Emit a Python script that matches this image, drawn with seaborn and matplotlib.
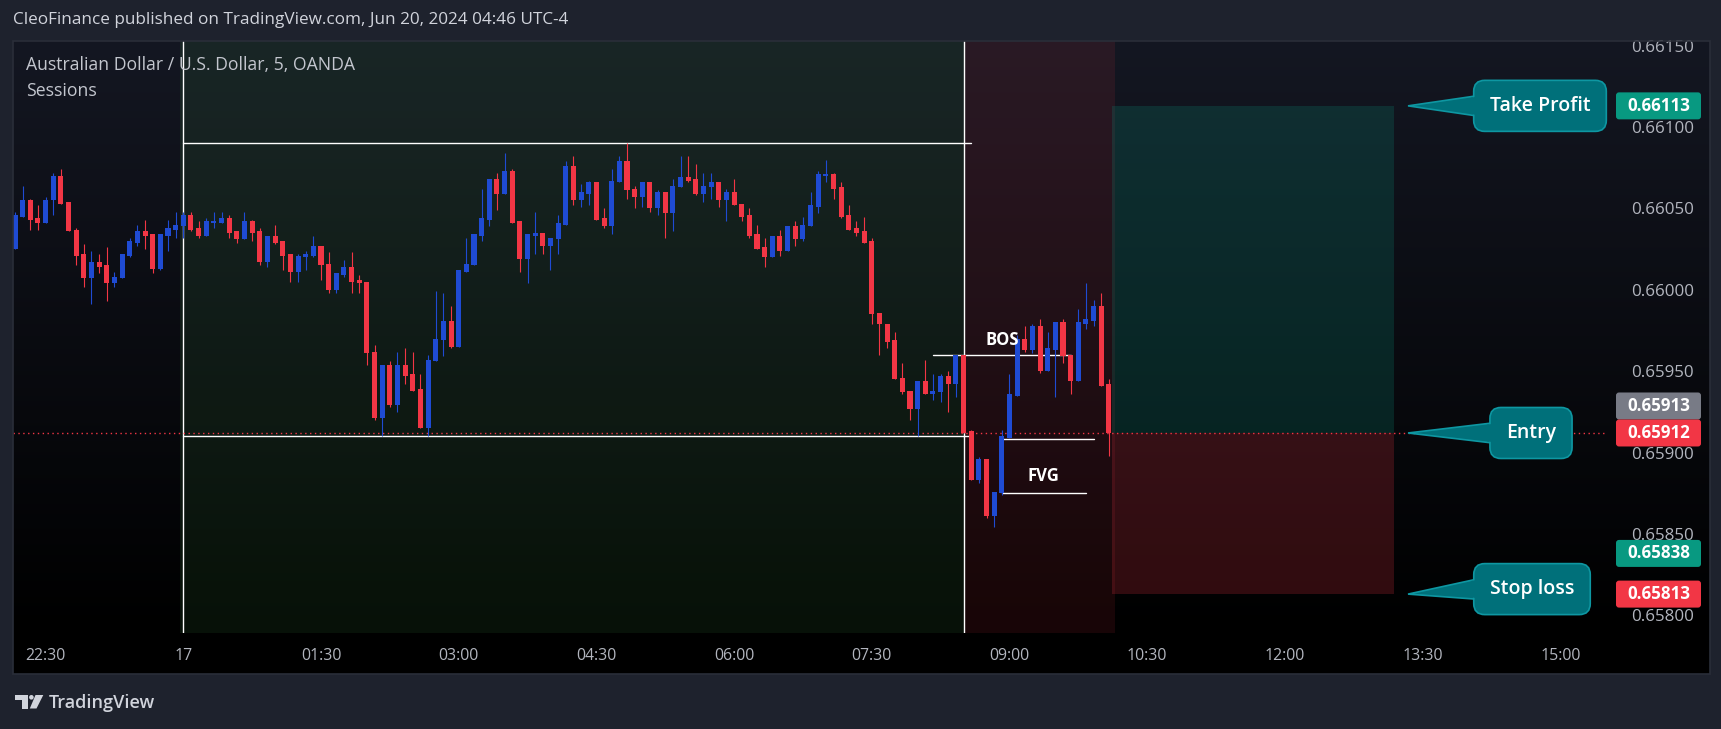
import numpy as np
import pandas as pd
import matplotlib
matplotlib.use("Agg")
import matplotlib.pyplot as plt
import seaborn as sns
from matplotlib.patches import Rectangle, FancyBboxPatch, Polygon, Circle
from matplotlib.transforms import IdentityTransform

# ---------------- data ----------------
start_time = "2024-06-16 22:10"   # first 5-minute candle
open_ = [0.66025, 0.66045, 0.66055, 0.66044, 0.66041, 0.66055, 0.66070, 0.66054, 0.66037, 0.66022,
         0.66007, 0.66017, 0.66015, 0.66004, 0.66007, 0.66021, 0.66029, 0.66036, 0.66034, 0.66013,
         0.66033, 0.66037, 0.66039, 0.66046, 0.66038, 0.66033, 0.66041, 0.66041, 0.66044, 0.66036,
         0.66031, 0.66042, 0.66036, 0.66017, 0.66033, 0.66030, 0.66022, 0.66011, 0.66020, 0.66021,
         0.66027, 0.66016, 0.66000, 0.66009, 0.66014, 0.66006, 0.66005, 0.65962, 0.65921, 0.65954,
         0.65929, 0.65954, 0.65948, 0.65939, 0.65915, 0.65956, 0.65969, 0.65981, 0.65965, 0.66011,
         0.66015, 0.66033, 0.66043, 0.66068, 0.66059, 0.66073, 0.66042, 0.66019, 0.66033, 0.66035,
         0.66027, 0.66031, 0.66040, 0.66076, 0.66055, 0.66059, 0.66066, 0.66044, 0.66039, 0.66066,
         0.66079, 0.66062, 0.66057, 0.66066, 0.66050, 0.66060, 0.66047, 0.66063, 0.66069, 0.66068,
         0.66059, 0.66063, 0.66066, 0.66055, 0.66060, 0.66053, 0.66046, 0.66034, 0.66026, 0.66020,
         0.66033, 0.66024, 0.66039, 0.66031, 0.66039, 0.66051, 0.66070, 0.66071, 0.66063, 0.66046,
         0.66038, 0.66036, 0.66030, 0.65986, 0.65979, 0.65969, 0.65946, 0.65938, 0.65927, 0.65944,
         0.65936, 0.65937, 0.65947, 0.65942, 0.65960, 0.65913, 0.65883, 0.65896, 0.65861, 0.65875,
         0.65909, 0.65935, 0.65970, 0.65963, 0.65978, 0.65950, 0.65963, 0.65980, 0.65960, 0.65944,
         0.65979, 0.65981, 0.65990, 0.65942]
high_ = [0.66048, 0.66064, 0.66056, 0.66052, 0.66057, 0.66072, 0.66074, 0.66054, 0.66038, 0.66028,
         0.66024, 0.66022, 0.66026, 0.66011, 0.66022, 0.66032, 0.66040, 0.66043, 0.66034, 0.66034,
         0.66043, 0.66048, 0.66048, 0.66048, 0.66042, 0.66044, 0.66048, 0.66048, 0.66046, 0.66036,
         0.66048, 0.66043, 0.66038, 0.66033, 0.66040, 0.66030, 0.66022, 0.66022, 0.66024, 0.66033,
         0.66027, 0.66023, 0.66010, 0.66018, 0.66023, 0.66009, 0.66005, 0.65966, 0.65954, 0.65956,
         0.65962, 0.65964, 0.65962, 0.65948, 0.65960, 0.65999, 0.65998, 0.65990, 0.66012, 0.66032,
         0.66034, 0.66062, 0.66068, 0.66072, 0.66084, 0.66074, 0.66042, 0.66034, 0.66048, 0.66035,
         0.66032, 0.66046, 0.66079, 0.66082, 0.66065, 0.66067, 0.66066, 0.66050, 0.66074, 0.66082,
         0.66090, 0.66064, 0.66066, 0.66066, 0.66061, 0.66060, 0.66068, 0.66082, 0.66082, 0.66077,
         0.66072, 0.66072, 0.66066, 0.66062, 0.66068, 0.66053, 0.66050, 0.66040, 0.66032, 0.66033,
         0.66037, 0.66039, 0.66042, 0.66045, 0.66060, 0.66073, 0.66080, 0.66072, 0.66066, 0.66052,
         0.66042, 0.66045, 0.66032, 0.65986, 0.65979, 0.65974, 0.65955, 0.65938, 0.65944, 0.65957,
         0.65948, 0.65948, 0.65950, 0.65960, 0.65960, 0.65914, 0.65897, 0.65896, 0.65876, 0.65914,
         0.65948, 0.65972, 0.65978, 0.65979, 0.65982, 0.65974, 0.65980, 0.65982, 0.65960, 0.65988,
         0.66004, 0.65994, 0.65998, 0.65945]
low_ = [0.66025, 0.66045, 0.66037, 0.66037, 0.66041, 0.66046, 0.66053, 0.66036, 0.66015, 0.66002,
        0.65991, 0.66010, 0.65993, 0.66002, 0.66007, 0.66020, 0.66027, 0.66025, 0.66010, 0.66012,
        0.66024, 0.66032, 0.66032, 0.66036, 0.66032, 0.66033, 0.66038, 0.66041, 0.66032, 0.66029,
        0.66031, 0.66030, 0.66015, 0.66014, 0.66028, 0.66012, 0.66005, 0.66005, 0.66012, 0.66020,
        0.66006, 0.65998, 0.65998, 0.66008, 0.65998, 0.65998, 0.65954, 0.65920, 0.65910, 0.65928,
        0.65925, 0.65942, 0.65938, 0.65915, 0.65910, 0.65956, 0.65959, 0.65964, 0.65965, 0.66011,
        0.66015, 0.66030, 0.66039, 0.66049, 0.66059, 0.66041, 0.66011, 0.66004, 0.66022, 0.66022,
        0.66012, 0.66022, 0.66040, 0.66052, 0.66051, 0.66052, 0.66043, 0.66038, 0.66034, 0.66066,
        0.66056, 0.66050, 0.66051, 0.66048, 0.66046, 0.66032, 0.66036, 0.66063, 0.66066, 0.66058,
        0.66054, 0.66056, 0.66051, 0.66042, 0.66052, 0.66042, 0.66032, 0.66025, 0.66014, 0.66020,
        0.66021, 0.66024, 0.66027, 0.66030, 0.66039, 0.66047, 0.66066, 0.66056, 0.66044, 0.66037,
        0.66033, 0.66029, 0.65979, 0.65960, 0.65964, 0.65945, 0.65936, 0.65920, 0.65910, 0.65936,
        0.65932, 0.65931, 0.65925, 0.65934, 0.65912, 0.65883, 0.65881, 0.65860, 0.65854, 0.65874,
        0.65909, 0.65935, 0.65962, 0.65961, 0.65949, 0.65950, 0.65934, 0.65955, 0.65936, 0.65944,
        0.65976, 0.65978, 0.65941, 0.65898]
close_ = [0.66046, 0.66055, 0.66043, 0.66041, 0.66055, 0.66070, 0.66053, 0.66036, 0.66021, 0.66007,
          0.66017, 0.66014, 0.66004, 0.66008, 0.66022, 0.66030, 0.66036, 0.66033, 0.66013, 0.66034,
          0.66038, 0.66040, 0.66046, 0.66037, 0.66033, 0.66042, 0.66042, 0.66044, 0.66035, 0.66031,
          0.66042, 0.66035, 0.66017, 0.66033, 0.66029, 0.66021, 0.66011, 0.66021, 0.66022, 0.66027,
          0.66015, 0.66000, 0.66010, 0.66014, 0.66005, 0.66004, 0.65961, 0.65921, 0.65954, 0.65929,
          0.65954, 0.65947, 0.65938, 0.65915, 0.65957, 0.65970, 0.65981, 0.65965, 0.66012, 0.66016,
          0.66034, 0.66044, 0.66068, 0.66059, 0.66073, 0.66041, 0.66019, 0.66034, 0.66035, 0.66027,
          0.66032, 0.66041, 0.66076, 0.66055, 0.66060, 0.66066, 0.66043, 0.66039, 0.66067, 0.66079,
          0.66061, 0.66057, 0.66066, 0.66050, 0.66060, 0.66047, 0.66064, 0.66069, 0.66067, 0.66059,
          0.66064, 0.66066, 0.66055, 0.66060, 0.66052, 0.66045, 0.66033, 0.66025, 0.66020, 0.66033,
          0.66024, 0.66039, 0.66031, 0.66040, 0.66052, 0.66071, 0.66071, 0.66062, 0.66045, 0.66037,
          0.66035, 0.66029, 0.65985, 0.65979, 0.65968, 0.65945, 0.65937, 0.65927, 0.65944, 0.65936,
          0.65938, 0.65947, 0.65942, 0.65960, 0.65912, 0.65883, 0.65896, 0.65861, 0.65876, 0.65910,
          0.65936, 0.65970, 0.65963, 0.65978, 0.65950, 0.65964, 0.65980, 0.65959, 0.65944, 0.65980,
          0.65982, 0.65990, 0.65941, 0.65912]

price_ticks = [0.66150, 0.66100, 0.66050, 0.66000, 0.65950, 0.65900, 0.65850, 0.65800]
time_tick_labels = ["22:30", "17", "01:30", "03:00", "04:30", "06:00", "07:30", "09:00",
                    "10:30", "12:00", "13:30", "15:00"]
time_tick_times = ["2024-06-16 22:30", "2024-06-17 00:00", "2024-06-17 01:30", "2024-06-17 03:00",
                   "2024-06-17 04:30", "2024-06-17 06:00", "2024-06-17 07:30", "2024-06-17 09:00",
                   "2024-06-17 10:30", "2024-06-17 12:00", "2024-06-17 13:30", "2024-06-17 15:00"]

asia_session = ("2024-06-17 00:00", "2024-06-17 08:30")
london_session = ("2024-06-17 08:30", "2024-06-17 10:05")
session_high = 0.66090
session_low = 0.65910
session_line_end = "2024-06-17 08:35"
bos_level, bos_span = 0.65960, ("2024-06-17 08:10", "2024-06-17 09:40")
fvg_top, fvg_top_span = 0.65908, ("2024-06-17 08:55", "2024-06-17 09:55")
fvg_bottom, fvg_bottom_span = 0.65875, ("2024-06-17 08:55", "2024-06-17 09:50")
take_profit, entry, stop_loss = 0.66113, 0.65912, 0.65813
position_span = ("2024-06-17 10:05", "2024-06-17 13:10")
tag_values = [0.66113, 0.65913, 0.65912, 0.65838, 0.65813]
tag_kinds = ["green", "grey", "red", "green", "red"]

# ---------------- style ----------------
sns.set_theme(style="dark", rc={"axes.facecolor": "none", "savefig.facecolor": "#1e222d"})
plt.rcParams["font.family"] = ["Open Sans", "DejaVu Sans"]

W, H = 1721, 729
FRAME = "#1e222d"
BLUE = "#1f4bd3"
RED = "#f23645"
GREEN = "#089981"
GREY = "#787b86"
TXT = "#b2b5be"

fig = plt.figure(figsize=(W / 100, H / 100), dpi=100, facecolor=FRAME)

def fx(x):
    return x / W

def fy(y):
    return 1 - y / H

PL, PR, PT, PB, SCALE_R, TAXB = 13.2, 1605.0, 40.6, 633.0, 1710.0, 674.0

# gradient pane background
bg = fig.add_axes([fx(PL), fy(PB), fx(SCALE_R - PL), (PB - PT) / H], zorder=0)
g = np.linspace(0, 1, 300)[:, None, None]
top_c = np.array([20, 23, 34]) / 255.0
img = top_c[None, None, :] * (1 - g)
bg.imshow(img, aspect="auto", extent=[0, 1, 0, 1], origin="upper")
bg.set_axis_off()
fig.patches.append(Rectangle((fx(PL), fy(TAXB)), fx(SCALE_R - PL), (TAXB - PB) / H,
                             transform=fig.transFigure, facecolor="black", edgecolor="none", zorder=0))
fig.patches.append(Rectangle((fx(PL), fy(TAXB)), fx(SCALE_R - PL), (TAXB - PT) / H,
                             transform=fig.transFigure, facecolor="none", edgecolor="#2a2e39",
                             lw=1.2, zorder=5))

ax = fig.add_axes([fx(PL), fy(PB), fx(PR - PL), (PB - PT) / H], zorder=2)
ax.set_facecolor("none")

times = pd.date_range(start_time, periods=len(open_), freq="5min")
t0 = times[0]

def tpos(ts):
    return (pd.Timestamp(ts) - t0) / pd.Timedelta("5min")

x = np.arange(len(open_))
o = np.array(open_)
h = np.array(high_)
l = np.array(low_)
c = np.array(close_)
up = c >= o
cols = np.where(up, BLUE, RED)

ax.set_xlim(-0.235, 207.85)
ax.set_ylim(0.657891, 0.661531)

# sessions
ax.axvspan(tpos(asia_session[0]) - 0.4, tpos(asia_session[1]), color="#4caf50", alpha=0.1, lw=0, zorder=0.5)
ax.axvspan(tpos(london_session[0]), tpos(london_session[1]) + 0.8, color=RED, alpha=0.1, lw=0, zorder=0.5)
for ts in (asia_session[0], asia_session[1]):
    ax.axvline(tpos(ts), color="white", lw=1.0, zorder=2)

# level lines via seaborn
segs = []
for name, lev, a, b in [("hi", session_high, asia_session[0], session_line_end),
                        ("lo", session_low, asia_session[0], session_line_end),
                        ("bos", bos_level, bos_span[0], bos_span[1]),
                        ("fvgt", fvg_top, fvg_top_span[0], fvg_top_span[1]),
                        ("fvgb", fvg_bottom, fvg_bottom_span[0], fvg_bottom_span[1])]:
    segs.append({"line": name, "x": tpos(a), "y": lev})
    segs.append({"line": name, "x": tpos(b), "y": lev})
seg_df = pd.DataFrame(segs)
sns.lineplot(data=seg_df, x="x", y="y", units="line", estimator=None, color="white",
             lw=1.0, ax=ax, zorder=2.5, legend=False)

# position box
px0 = tpos(position_span[0]) + 0.35
px1 = tpos(position_span[1]) + 0.3
ax.add_patch(Rectangle((px0, entry), px1 - px0, take_profit - entry, facecolor=GREEN, alpha=0.2, lw=0, zorder=1))
ax.add_patch(Rectangle((px0, stop_loss), px1 - px0, entry - stop_loss, facecolor=RED, alpha=0.2, lw=0, zorder=1))

# last price dotted line
ax.axhline(entry, color=RED, lw=1.0, ls=(0, (1, 2.5)), zorder=2.6)

# candles
ax.vlines(x, l, h, colors=cols, lw=0.8, zorder=3)
ax.bar(x, np.maximum(np.abs(c - o), 0.000006), bottom=np.minimum(o, c), width=0.66,
       color=cols, lw=0, zorder=4)

# BOS / FVG labels
ax.text((tpos(bos_span[0]) + tpos(bos_span[1])) / 2, bos_level + 0.000092, "BOS", color="white",
        fontsize=12, fontweight="bold", ha="center", va="center", zorder=6)
ax.text((tpos(fvg_bottom_span[0]) + tpos(fvg_bottom_span[1])) / 2, fvg_bottom + 0.000105, "FVG",
        color="white", fontsize=12, fontweight="bold", ha="center", va="center", zorder=6)

# axes ticks
for s in ax.spines.values():
    s.set_visible(False)
ax.grid(False)
ax.yaxis.tick_right()
ax.set_yticks(price_ticks)
ax.set_yticklabels([f"{p:.5f}" for p in price_ticks])
ax.set_xticks([tpos(t) for t in time_tick_times])
ax.set_xticklabels(time_tick_labels)
ax.tick_params(axis="y", length=0, pad=19, labelsize=12.2, labelcolor=TXT)
ax.tick_params(axis="x", length=0, pad=11, labelsize=11.4, labelcolor=TXT)
ax.set_xlabel("")
ax.set_ylabel("")

# price tags on the scale
tag_col = {"green": GREEN, "grey": GREY, "red": RED}
red_y = ax.transData.transform((0, entry))[1]
for val, kind in zip(tag_values, tag_kinds):
    yy = ax.transData.transform((0, val))[1]
    if kind == "grey":
        yy = red_y + 27
    fig.patches.append(FancyBboxPatch((1616, yy - 13.5), 85, 27, boxstyle="round,pad=0,rounding_size=3",
                                      transform=IdentityTransform(), facecolor=tag_col[kind],
                                      edgecolor="none", zorder=20))
    fig.text(1659 / W, yy / H, f"{val:.5f}", color="white", fontsize=12.2, fontweight="bold",
             ha="center", va="center", zorder=21)

# callouts
CALL_FILL = "#00707a"
CALL_EDGE = "#0e97a2"
renderer = fig.canvas.get_renderer()
for label, price, cx, dy in [("Take Profit", take_profit, 1540, 0), ("Entry", entry, 1531, 0),
                             ("Stop loss", stop_loss, 1532, 5)]:
    tipx, tipy = ax.transData.transform((px1 + 1.8, price))
    cy = tipy + dy
    t = fig.text(cx / W, cy / H, label, color="white", fontsize=14, fontweight="semibold",
                 ha="center", va="center", zorder=32)
    bb = t.get_window_extent(renderer)
    bw = bb.width + 32
    bh = 51
    bl = cx - bw / 2
    fig.patches.append(Polygon([(tipx, tipy), (bl + 4, cy + 0.2 * bh), (bl + 4, cy - 0.2 * bh)],
                               closed=True, transform=IdentityTransform(), facecolor=CALL_FILL,
                               edgecolor=CALL_EDGE, lw=1.2, zorder=29))
    fig.patches.append(FancyBboxPatch((bl, cy - bh / 2), bw, bh, boxstyle="round,pad=0,rounding_size=11",
                                      transform=IdentityTransform(), facecolor=CALL_FILL,
                                      edgecolor=CALL_EDGE, lw=1.2, zorder=30))
    frac = (bl - 3 - tipx) / (bl + 4 - tipx)
    fig.patches.append(Polygon([(bl - 3, cy + 0.2 * bh * frac - 1), (bl + 4, cy + 0.2 * bh - 1),
                                (bl + 4, cy - 0.2 * bh + 1), (bl - 3, cy - 0.2 * bh * frac + 1)],
                               closed=True, transform=IdentityTransform(), facecolor=CALL_FILL,
                               edgecolor="none", zorder=31))

# header and legend texts
fig.text(fx(13), fy(20.5), "CleoFinance published on TradingView.com, Jun 20, 2024 04:46 UTC-4",
         color="#d1d4dc", fontsize=12.35, ha="left", va="center")
fig.text(fx(26), fy(65), "Australian Dollar / U.S. Dollar, 5, OANDA", color="#c3c6ce",
         fontsize=12.7, ha="left", va="center", zorder=10)
fig.text(fx(26), fy(91.5), "Sessions", color="#c3c6ce", fontsize=12.7, ha="left", va="center", zorder=10)

# TradingView logo
LOGO = "#d1d4dc"
def P(xp, yp):
    return (xp, H - yp)
fig.patches.append(Polygon([P(15, 695), P(28.3, 695), P(28.3, 708.5), P(21.5, 708.5), P(21.5, 699.5), P(15, 699.5)],
                           closed=True, transform=IdentityTransform(), facecolor=LOGO, edgecolor="none"))
fig.patches.append(Circle(P(31.4, 697.3), 2.3, transform=IdentityTransform(), facecolor=LOGO, edgecolor="none"))
fig.patches.append(Polygon([P(35.5, 695), P(43.3, 695), P(36.5, 708.5), P(29.8, 708.5)],
                           closed=True, transform=IdentityTransform(), facecolor=LOGO, edgecolor="none"))
fig.text(fx(49), fy(703), "TradingView", color=LOGO, fontsize=13, fontweight="semibold",
         ha="left", va="center")

fig.savefig("out.png", dpi=100, facecolor=FRAME)
